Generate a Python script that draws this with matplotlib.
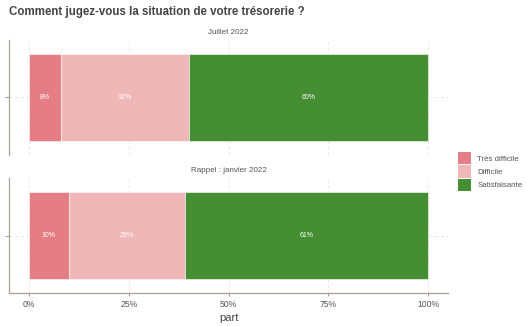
import matplotlib
matplotlib.use("Agg")
import matplotlib.pyplot as plt
from matplotlib.patches import Patch

plt.rcParams['font.family'] = ['Liberation Sans', 'DejaVu Sans']

# Survey data
periods = ["Juillet 2022", "Rappel : janvier 2022"]
categories = ["Très difficile", "Difficile", "Satisfaisante"]
values = {
    "Juillet 2022": [8, 32, 60],
    "Rappel : janvier 2022": [10, 29, 61],
}
colors = ["#E57E84", "#F0B7B9", "#468E32"]
xticks = [0, 25, 50, 75, 100]
xticklabels = ["0%", "25%", "50%", "75%", "100%"]

W, H = 527, 326
fig = plt.figure(figsize=(W / 100, H / 100), dpi=100)
fig.patch.set_facecolor("white")

axis_col = "#a8a097"
grid_col = "#ece6e0"
text_col = "#555555"

def px_axes(left, top, right, bottom):
    return fig.add_axes([left / W, 1 - bottom / H, (right - left) / W, (bottom - top) / H])

panels = [(40, 155), (178, 293)]
for i, (period, (top, bottom)) in enumerate(zip(periods, panels)):
    ax = px_axes(9, top, 448, bottom)
    ax.set_xlim(-5, 105)
    ax.set_ylim(0.4, 1.6)
    ax.set_facecolor("white")
    for s in ["top", "right"]:
        ax.spines[s].set_visible(False)
    ax.spines["left"].set_color(axis_col)
    ax.spines["left"].set_linewidth(0.9)
    ax.spines["bottom"].set_color(axis_col)
    ax.spines["bottom"].set_linewidth(0.9)
    ax.spines["bottom"].set_visible(i == 1)
    ax.set_axisbelow(True)
    ax.grid(True, color=grid_col, linestyle=(0, (3, 3)), linewidth=0.7)
    ax.set_yticks([1])
    ax.set_yticklabels([""])
    ax.set_xticks(xticks)
    ax.tick_params(axis="y", length=3, color=axis_col, width=0.8)
    if i == 1:
        ax.set_xticklabels(xticklabels, fontsize=6.2, color=text_col)
        ax.tick_params(axis="x", length=2, color=axis_col, width=0.8, pad=3)
        ax.set_xlabel("part", fontsize=8, color="#444444", labelpad=3)
    else:
        ax.set_xticklabels([])
        ax.tick_params(axis="x", length=0)

    left = 0
    for cat, v, c in zip(categories, values[period], colors):
        ax.barh(1, v, left=left, height=0.9, color=c, edgecolor="white", linewidth=0.4)
        ax.text(left + v / 2, 1, f"{v}%", ha="center", va="center",
                fontsize=5, color="white")
        left += v

    ax.text(0.5, 1 + 7 / (bottom - top), period, transform=ax.transAxes,
            ha="center", va="center", fontsize=5.8, color=text_col)

fig.text(9 / W, 1 - 12 / H, "Comment jugez-vous la situation de votre trésorerie ?",
         fontsize=8.3, fontweight="bold", color="#444444", ha="left", va="center")

handles = [Patch(facecolor=c, edgecolor="none", label=cat) for cat, c in zip(categories, colors)]
leg = fig.legend(handles=handles, loc="upper left", bbox_to_anchor=(458 / W, 1 - 152 / H),
                 frameon=False, fontsize=5.7, handlelength=1.7, handleheight=2.05,
                 handletextpad=0.75, labelspacing=0.1, borderaxespad=0, borderpad=0)
for t in leg.get_texts():
    t.set_color(text_col)

fig.savefig("out.png", dpi=100)
